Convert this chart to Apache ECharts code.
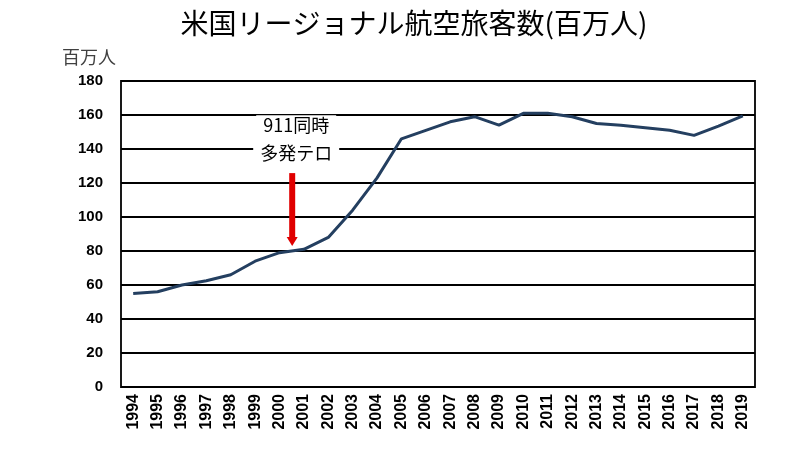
<!DOCTYPE html>
<html><head><meta charset="utf-8">
<script src="https://cdn.jsdelivr.net/npm/echarts@6/dist/echarts.min.js"></script>
<style>html,body{margin:0;padding:0;background:#fff}#c{width:793px;height:459px}</style>
</head><body><div id="c"></div>
<script>
const years = ['1994','1995','1996','1997','1998','1999','2000','2001','2002','2003','2004','2005','2006','2007','2008','2009','2010','2011','2012','2013','2014','2015','2016','2017','2018','2019'];
const passengers = [55,56,60,62.5,66,74,79,81,88,104,123,146,151,156,159,154,161,161,159,155,154,152.5,151,148,153.5,159.5];
const yTicks = [0,20,40,60,80,100,120,140,160,180];
const titleText = '米国リージョナル航空旅客数(百万人)';
const unitText = '百万人';
const noteLines = ['911同時','多発テロ'];
const arrowTop = 127, arrowBottom = 83;

const chart = echarts.init(document.getElementById('c'));
chart.setOption({
  animation:false,
  title:[
    {text:titleText,left:409,top:4,textAlign:'center',textStyle:{fontFamily:'Noto Sans CJK JP',fontSize:28,fontWeight:'normal',color:'#000'}},
    {text:unitText,left:57,top:43,textStyle:{fontFamily:'Noto Sans CJK JP',fontSize:18,fontWeight:'normal',color:'#404040'}}
  ],
  grid:{left:121,right:38,top:81,bottom:72,show:true,borderColor:'#000',borderWidth:1.8,backgroundColor:'transparent'},
  xAxis:{type:'category',data:years,boundaryGap:true,
    axisLine:{show:false},axisTick:{show:false},
    axisLabel:{rotate:90,interval:0,margin:7,fontFamily:'Liberation Sans',fontWeight:'bold',fontSize:16,color:'#000'}},
  yAxis:{type:'value',min:0,max:180,interval:20,
    axisLine:{show:false},axisTick:{show:false},
    axisLabel:{margin:18,fontFamily:'Liberation Sans',fontWeight:'bold',fontSize:15,color:'#000',
      formatter:v=>yTicks.includes(v)?String(v):''},
    splitLine:{lineStyle:{color:'#000',width:1.8}}},
  series:[{type:'line',data:passengers,symbol:'none',smooth:false,
    lineStyle:{color:'#243f60',width:3},z:5}]
});

function drawNote(){
  const i0 = years.indexOf('2000'), i1 = years.indexOf('2001');
  const p0 = chart.convertToPixel({gridIndex:0},[i0,arrowTop]);
  const p1 = chart.convertToPixel({gridIndex:0},[i1,arrowBottom]);
  const x = (p0[0]+p1[0])/2 + 0.5;
  const l1y = chart.convertToPixel({gridIndex:0},[i0,154])[1];
  const l2y = chart.convertToPixel({gridIndex:0},[i0,137.5])[1];
  const top = p0[1]+2, bot = p1[1];
  chart.setOption({graphic:[
    {type:'text',x:x+4,y:l1y,z:20,style:{text:noteLines[0],fontFamily:'Noto Sans CJK JP',fontSize:18,fill:'#000',align:'center',verticalAlign:'middle',backgroundColor:'#fff',padding:[1,7]}},
    {type:'text',x:x+4,y:l2y,z:20,style:{text:noteLines[1],fontFamily:'Noto Sans CJK JP',fontSize:18,fill:'#000',align:'center',verticalAlign:'middle',backgroundColor:'#fff',padding:[1,7]}},
    {type:'rect',z:20,shape:{x:x-3,y:top,width:6,height:bot-top-8},style:{fill:'#e00000'}},
    {type:'polygon',z:20,shape:{points:[[x-5.5,bot-9],[x+5.5,bot-9],[x,bot]]},style:{fill:'#e00000'}}
  ]});
}
drawNote();
</script></body></html>
